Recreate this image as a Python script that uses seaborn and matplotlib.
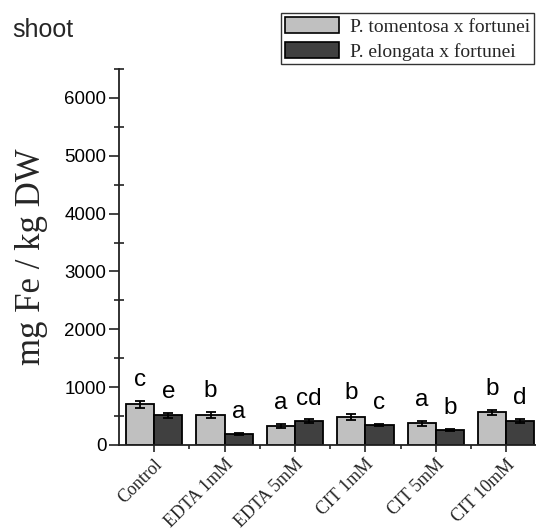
import matplotlib
matplotlib.use("Agg")
import matplotlib.pyplot as plt
from matplotlib.patches import Patch
from matplotlib.ticker import MultipleLocator, FixedLocator
import numpy as np
import pandas as pd
import seaborn as sns

# Fe content in shoots (mg Fe / kg DW) for two poplar hybrids under chelate treatments
treatments = ["Control", "EDTA 1mM", "EDTA 5mM", "CIT 1mM", "CIT 5mM", "CIT 10mM"]
genotypes = ["P. tomentosa x fortunei", "P. elongata x fortunei"]

tomentosa_mean = [700, 520, 330, 490, 375, 565]
tomentosa_err = [60, 55, 40, 50, 40, 45]
elongata_mean = [510, 190, 410, 350, 265, 420]
elongata_err = [45, 20, 35, 20, 15, 35]

tomentosa_letters = ["c", "b", "a", "b", "a", "b"]
elongata_letters = ["e", "a", "cd", "c", "b", "d"]

colors = ["#c0c0c0", "#404040"]

df = pd.DataFrame({
    "treatment": treatments * 2,
    "genotype": [genotypes[0]] * len(treatments) + [genotypes[1]] * len(treatments),
    "value": tomentosa_mean + elongata_mean,
})

sns.set_theme(style="ticks")
plt.rcParams["font.family"] = ["Liberation Sans", "DejaVu Sans"]
serif = ["Liberation Serif", "DejaVu Serif"]

fig = plt.figure(figsize=(5.36, 5.31), dpi=100)
ax = fig.add_axes([0.222, 0.162, 0.788, 0.708])

sns.barplot(data=df, x="treatment", y="value", hue="genotype",
            order=treatments, hue_order=genotypes, palette=colors,
            errorbar=None, width=0.8, edgecolor="black", linewidth=1.3,
            legend=False, ax=ax)

errs = [tomentosa_err, elongata_err]
means = [tomentosa_mean, elongata_mean]
letters = [tomentosa_letters, elongata_letters]
for container, m, e, labs in zip(ax.containers, means, errs, letters):
    xs = [bar.get_x() + bar.get_width() / 2 for bar in container]
    ax.errorbar(xs, m, yerr=e, fmt="none", ecolor="black",
                elinewidth=1.3, capsize=3.5, capthick=1.3, zorder=3)
    for x, v, err, lab in zip(xs, m, e, labs):
        ax.annotate(lab, (x, v + err), xytext=(0, 7), textcoords="offset points",
                    ha="center", va="bottom", fontsize=17.5, color="black")

ax.set_xlim(-0.5, 5.5)
ax.set_ylim(0, 6500)
ax.yaxis.set_major_locator(FixedLocator([0, 1000, 2000, 3000, 4000, 5000, 6000]))
ax.yaxis.set_minor_locator(MultipleLocator(500))
ax.xaxis.set_minor_locator(FixedLocator(np.arange(0.5, 5.5, 1.0)))

for side in ["top", "right"]:
    ax.spines[side].set_visible(False)
for side in ["left", "bottom"]:
    ax.spines[side].set_linewidth(1.3)
    ax.spines[side].set_color("#222222")

ax.tick_params(axis="y", which="major", direction="out", length=7, width=1.2,
               pad=2, labelsize=13.5, colors="#222222", labelcolor="black")
ax.tick_params(axis="y", which="minor", direction="inout", length=7, width=1.2,
               colors="#222222")
ax.tick_params(axis="x", which="major", direction="out", length=5, width=1.2, pad=3)
ax.tick_params(axis="x", which="minor", direction="out", length=3, width=1.2)

ax.set_xticks(range(len(treatments)))
ax.set_xticklabels(treatments, rotation=45, ha="right", rotation_mode="anchor",
                   fontsize=13, family=serif)
ax.set_xlabel("")
ax.set_ylabel("mg Fe / kg DW", fontsize=25, family=serif, labelpad=12)

fig.text(0.022, 0.944, "shoot", fontsize=18, ha="left", va="center")

handles = [Patch(facecolor=c, edgecolor="black", linewidth=1.2) for c in colors]
leg = fig.legend(handles, genotypes, loc="upper right", bbox_to_anchor=(0.996, 0.976),
                 frameon=True, fancybox=False, edgecolor="black",
                 prop={"family": serif, "size": 14},
                 handlelength=2.8, handleheight=0.95, handletextpad=0.55,
                 borderpad=0.2, labelspacing=0.3, borderaxespad=0)
leg.get_frame().set_linewidth(1.0)

fig.savefig("out.png", dpi=100, facecolor="white")
